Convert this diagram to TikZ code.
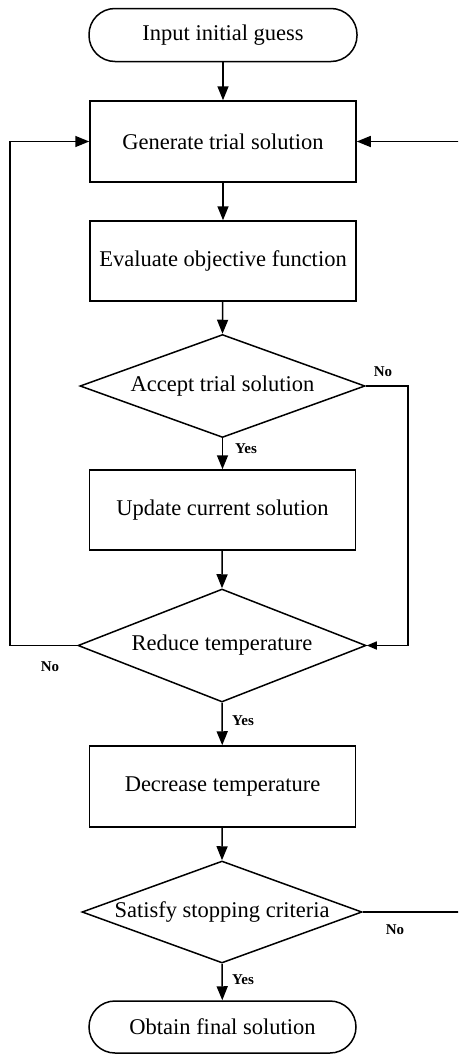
\documentclass[tikz,border=0pt]{standalone}
\usepackage{fontspec}
\setmainfont{Liberation Serif}
\usetikzlibrary{arrows.meta,shapes.geometric}
\begin{document}
\begin{tikzpicture}[x=1pt,y=-1pt,
  every node/.style={font=\fontsize{22.5}{26}\selectfont},
  procbox/.style={draw,line width=1.5pt,rectangle,minimum width=266pt,minimum height=81pt,inner sep=0pt},
  termbox/.style={draw,line width=1.5pt,rectangle,rounded corners=26pt,minimum width=268pt,minimum height=53pt,inner sep=0pt},
  decbox/.style={draw,line width=1.5pt,diamond,aspect=2.8,inner sep=0pt},
  arr/.style={line width=1.5pt,-{Triangle[length=14pt,width=11pt]}},
  smallarr/.style={line width=1.5pt,-{Triangle[length=10pt,width=8pt]}},
  lbl/.style={font=\fontsize{15}{17}\selectfont\bfseries,inner sep=0pt}]
\useasboundingbox (0,0) rectangle (458,1055);
\clip (0,0) rectangle (458,1055);
\node[termbox] (start) at (223,35) {Input initial guess};
\node[procbox] (gen) at (223,141.5) {Generate trial solution};
\node[procbox,minimum height=80pt] (eval) at (223,261) {Evaluate objective function};
\node[decbox,minimum width=285pt,minimum height=103pt] (accept) at (222.5,386) {Accept trial solution};
\node[procbox,minimum height=80pt] (update) at (222.5,510) {Update current solution};
\node[decbox,minimum width=288pt,minimum height=113pt] (reduce) at (222,645.5) {Reduce temperature};
\node[procbox] (decrease) at (222.5,786.5) {Decrease temperature};
\node[decbox,minimum width=280pt,minimum height=102pt] (satisfy) at (222,912) {Satisfy stopping criteria};
\node[termbox,minimum width=267pt,minimum height=52pt] (final) at (222.5,1027) {Obtain final solution};
\coordinate (aR) at (408,0);
\coordinate (lL) at (10,0);
\coordinate (rR) at (464,0);
\draw[arr] (start) -- (gen);
\draw[arr] (gen) -- (eval);
\draw[arr] (eval) -- (accept.north);
\draw[arr] (accept.south) -- (update);
\draw[arr] (update) -- (reduce.north);
\draw[arr] (reduce.south) -- (decrease);
\draw[arr] (decrease) -- (satisfy.north);
\draw[arr] (satisfy.south) -- (final);
\draw[smallarr] (accept.east) -| (aR |- reduce.east) -- (reduce.east);
\draw[arr] (reduce.west) -| (lL |- gen.west) -- (gen.west);
\draw[arr] (satisfy.east) -| (rR |- gen.east) -- (gen.east);
\node[lbl] (yes1) at (246,449) {Yes};
\node[lbl] (yes2) at (243,721) {Yes};
\node[lbl] (yes3) at (243,980) {Yes};
\node[lbl] (no1) at (383,372) {No};
\node[lbl] (no2) at (50,667) {No};
\node[lbl] (no3) at (395,930) {No};
\end{tikzpicture}
\end{document}
